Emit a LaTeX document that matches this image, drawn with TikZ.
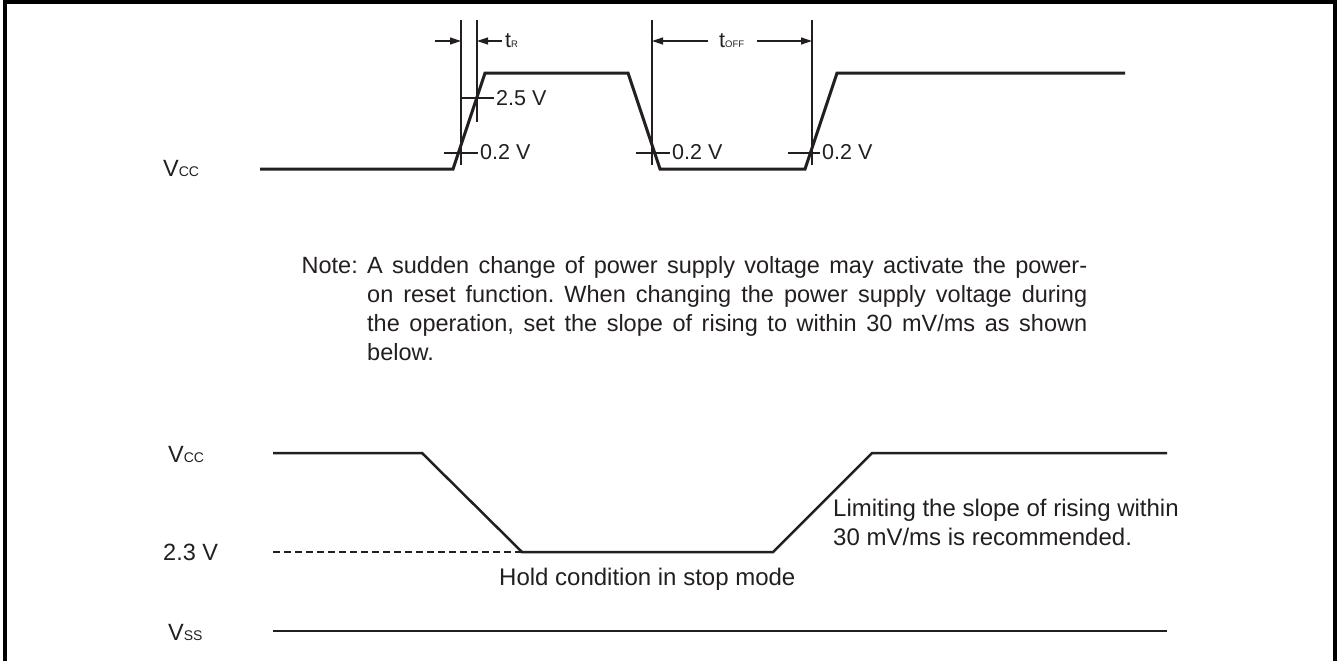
\documentclass[tikz,border=0pt]{standalone}
\usepackage{fontspec}
\setmainfont{Liberation Sans}
\usetikzlibrary{arrows.meta}
\definecolor{ink}{RGB}{35,31,32}
\frenchspacing
\newcommand\lsub[1]{{\fontsize{14}{14}\selectfont #1}}
\newcommand\tsub[1]{{\fontsize{9.5}{9.5}\selectfont #1}}
\tikzset{
  frameline/.style={draw=black,line width=4pt},
  wavetop/.style={draw=ink,line width=3pt,line join=miter},
  wavebot/.style={draw=ink,line width=2.5pt,line join=miter},
  thinline/.style={draw=ink,line width=1.2pt},
  dashline/.style={draw=ink,line width=1.2pt,dash pattern=on 7pt off 4pt},
  dimarrow/.style={draw=ink,line width=1.2pt,-{Triangle[length=11pt,width=7pt]}},
  biglabel/.style={inner sep=0pt,text=ink,font=\fontsize{23.5}{29}\selectfont,anchor=base west},
  lowtext/.style={inner sep=0pt,text=ink,font=\fontsize{24}{29}\selectfont,anchor=base west},
  smalllabel/.style={inner sep=0pt,text=ink,font=\fontsize{21.5}{26}\selectfont,anchor=base west},
}
\begin{document}
\begin{tikzpicture}[x=1pt,y=-1pt]
\useasboundingbox (0,0) rectangle (1337,661);
% frame (open at bottom)
\draw[frameline] (5,661) -- (5,2.5) -- (1335,2.5) -- (1335,661);

% ---------- top waveform ----------
\coordinate (t0) at (260,169);
\coordinate (t1) at (453,169);
\coordinate (t2) at (485,73);
\coordinate (t3) at (628,73);
\coordinate (t4) at (660,169);
\coordinate (t5) at (805,169);
\coordinate (t6) at (837,73);
\coordinate (t7) at (1125,73);
\draw[wavetop] (t0) -- (t1) -- (t2) -- (t3) -- (t4) -- (t5) -- (t6) -- (t7);

% vertical reference lines
\coordinate (v1a) at (461,20);  \coordinate (v1b) at (461,165);
\coordinate (v2a) at (477,20);  \coordinate (v2b) at (477,122);
\coordinate (v3a) at (652,20);  \coordinate (v3b) at (652,165);
\coordinate (v4a) at (812,20);  \coordinate (v4b) at (812,165);
\draw[thinline] (v1a) -- (v1b);
\draw[thinline] (v2a) -- (v2b);
\draw[thinline] (v3a) -- (v3b);
\draw[thinline] (v4a) -- (v4b);

% level ticks
\coordinate (k1a) at (460,98);  \coordinate (k1b) at (494,98);
\coordinate (k2a) at (444,153); \coordinate (k2b) at (478,153);
\coordinate (k3a) at (636,153); \coordinate (k3b) at (670,153);
\coordinate (k4a) at (788,153); \coordinate (k4b) at (820,153);
\draw[thinline] (k1a) -- (k1b);
\draw[thinline] (k2a) -- (k2b);
\draw[thinline] (k3a) -- (k3b);
\draw[thinline] (k4a) -- (k4b);

\node[smalllabel] (l25) at (496,105) {2.5 V};
\node[smalllabel] (l02a) at (480,159) {0.2 V};
\node[smalllabel] (l02b) at (672,159) {0.2 V};
\node[smalllabel] (l02c) at (822,159) {0.2 V};

% t_R dimension
\coordinate (ra) at (435,41); \coordinate (rb) at (461,41);
\coordinate (rc) at (502,41); \coordinate (rd) at (477,41);
\draw[dimarrow] (ra) -- (rb);
\draw[dimarrow] (rc) -- (rd);
\node[smalllabel] (tr) at (505,48) {t\tsub{R}};

% t_OFF dimension
\coordinate (oa) at (708,41); \coordinate (ob) at (652,41);
\coordinate (oc) at (757,41); \coordinate (od) at (812,41);
\draw[dimarrow] (oa) -- (ob);
\draw[dimarrow] (oc) -- (od);
\node[smalllabel] (toff) at (719,48) {t\tsub{OFF}};

\node[biglabel] (vcctop) at (163,176) {V\lsub{CC}};

% ---------- note ----------
\node[biglabel,anchor=base east] (notelbl) at (358,273) {Note:};
\node[inner sep=0pt,text=ink,font=\fontsize{23.5}{29}\selectfont,
      anchor=north west,text width=720pt,align=justify] (note) at (367,252.7)
 {\noindent\strut A sudden change of power supply voltage may activate the power-\linebreak
  on reset function. When changing the power supply voltage during\linebreak
  the operation, set the slope of rising to within 30 mV/ms as shown\linebreak
  below.};

% ---------- bottom waveform ----------
\coordinate (b0) at (273,453);
\coordinate (b1) at (422,453);
\coordinate (b2) at (522,552);
\coordinate (b3) at (773,552);
\coordinate (b4) at (872,453);
\coordinate (b5) at (1167,453);
\draw[wavebot] (b0) -- (b1) -- (b2) -- (b3) -- (b4) -- (b5);
\coordinate (d0) at (273,552);
\draw[dashline] (d0) -- (b2);
\coordinate (s0) at (273,631);
\coordinate (s1) at (1167,631);
\draw[wavebot] (s0) -- (s1);

\node[biglabel] (vccbot) at (168,462) {V\lsub{CC}};
\node[biglabel] (l23) at (163,560) {2.3 V};
\node[biglabel] (vss) at (168,640) {V\lsub{SS}};
\node[lowtext] (hold) at (499,585) {Hold condition in stop mode};
\node[inner sep=0pt,text=ink,font=\fontsize{24}{29}\selectfont,
      anchor=north west,align=left] (limit) at (833,495.7)
 {\strut Limiting the slope of rising within\\30 mV/ms is recommended.};
\end{tikzpicture}
\end{document}
